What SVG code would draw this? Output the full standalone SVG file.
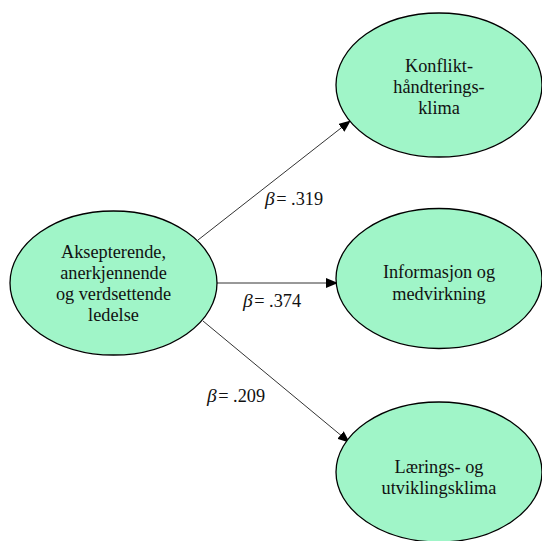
<svg xmlns="http://www.w3.org/2000/svg" width="542" height="541" viewBox="0 0 542 541">
<style>
.node ellipse{fill:#a0f5c8;stroke:#000;stroke-width:1.3}
text{font-family:'Liberation Serif','Times New Roman',serif;font-size:18.3px;fill:#111}
.node text{text-anchor:middle}
.b{font-style:italic;font-size:19.5px}
#connectors line{stroke:#333;stroke-width:1}
</style>
<defs>
<marker id="arr" markerWidth="12" markerHeight="10" refX="11" refY="5" orient="auto" markerUnits="userSpaceOnUse">
<path d="M0,0 L12,5 L0,10 Z" fill="#000"/>
</marker>
</defs>
<rect width="542" height="541" fill="#fff"/>
<g id="connectors">
<line x1="198" y1="240" x2="350" y2="121" marker-end="url(#arr)"/>
<line x1="217" y1="283" x2="337" y2="283" marker-end="url(#arr)"/>
<line x1="203" y1="321" x2="349" y2="442" marker-end="url(#arr)"/>
</g>
<g id="labels">
<text x="265" y="205"><tspan class="b">β</tspan><tspan dx="1.5">= .319</tspan></text>
<text x="243" y="307"><tspan class="b">β</tspan><tspan dx="1.5">= .374</tspan></text>
<text x="207" y="402"><tspan class="b">β</tspan><tspan dx="1.5">= .209</tspan></text>
</g>
<g id="n-ledelse" class="node">
<ellipse cx="113.5" cy="283" rx="103.5" ry="72"/>
<text x="113.5" y="258">Aksepterende,</text>
<text x="113.5" y="279">anerkjennende</text>
<text x="113.5" y="300">og verdsettende</text>
<text x="113.5" y="321">ledelse</text>
</g>
<g id="n-konflikt" class="node">
<ellipse cx="439" cy="85" rx="103" ry="72"/>
<text x="439" y="72">Konflikt-</text>
<text x="439" y="93">håndterings-</text>
<text x="439" y="114">klima</text>
</g>
<g id="n-informasjon" class="node">
<ellipse cx="439" cy="278.5" rx="103" ry="70"/>
<text x="439" y="278">Informasjon og</text>
<text x="439" y="300">medvirkning</text>
</g>
<g id="n-laering" class="node">
<ellipse cx="439" cy="472" rx="103" ry="70"/>
<text x="439" y="473">Lærings- og</text>
<text x="439" y="494">utviklingsklima</text>
</g>
</svg>
